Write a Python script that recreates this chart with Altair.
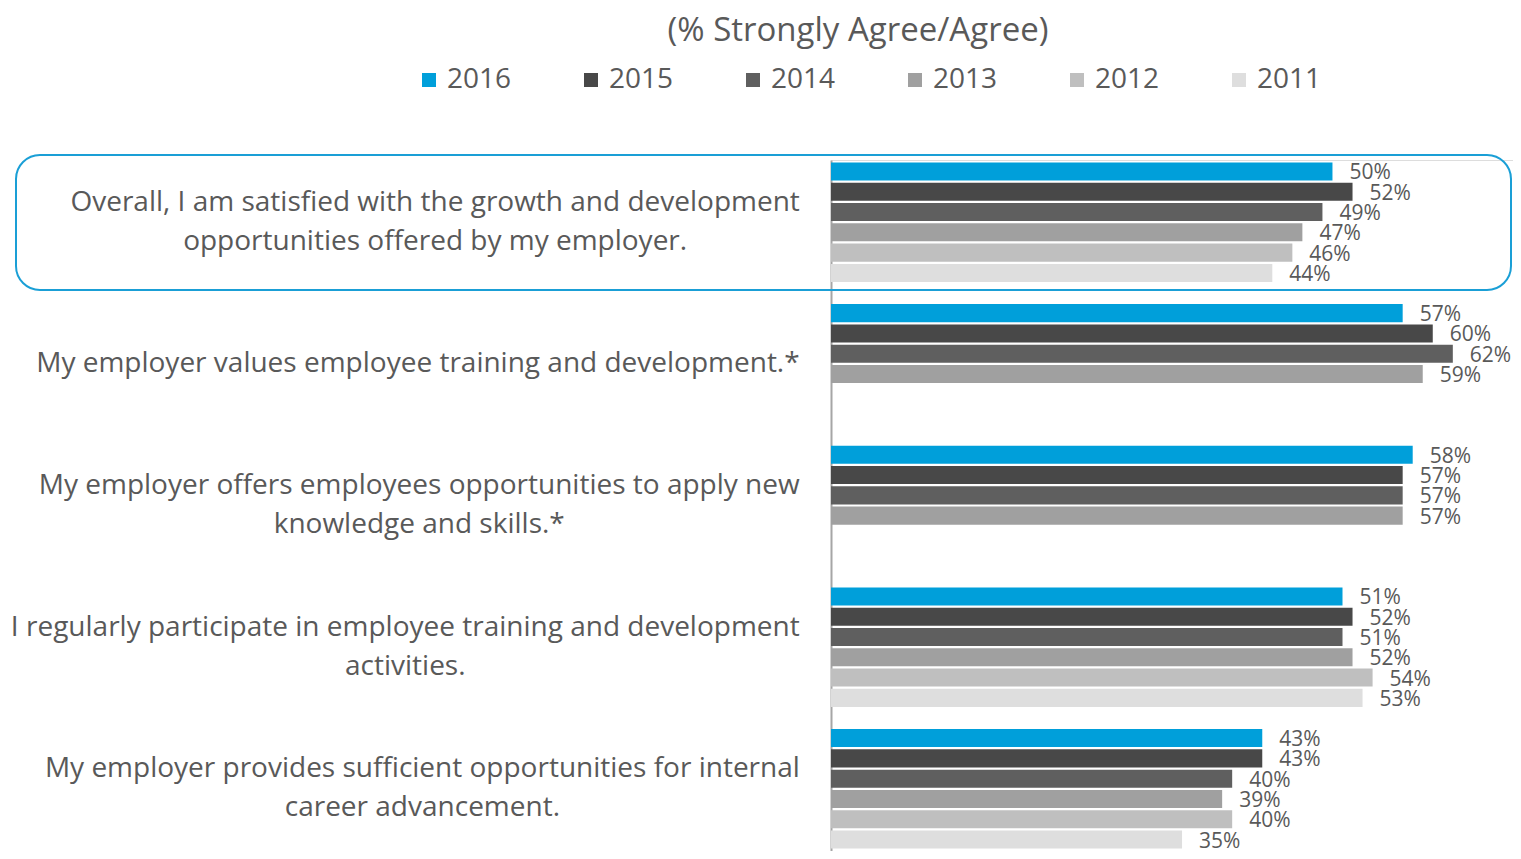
import altair as alt
import pandas as pd

# ---- data ----
questions = [
    "Overall, I am satisfied with the growth and development\nopportunities offered by my employer.",
    "My employer values employee training and development.*",
    "My employer offers employees opportunities to apply new\nknowledge and skills.*",
    "I regularly participate in employee training and development\nactivities.",
    "My employer provides sufficient opportunities for internal\ncareer advancement.",
]
years = ["2016", "2015", "2014", "2013", "2012", "2011"]
colors = ["#009FDA", "#484848", "#5F5F5F", "#A0A0A0", "#BFBFBF", "#DEDEDE"]

q1_values = [50, 52, 49, 47, 46, 44]
q2_values = [57, 60, 62, 59, None, None]
q3_values = [58, 57, 57, 57, None, None]
q4_values = [51, 52, 51, 52, 54, 53]
q5_values = [43, 43, 40, 39, 40, 35]

series = [q1_values, q2_values, q3_values, q4_values, q5_values]

rows = []
for q, vals in zip(questions, series):
    for y, v in zip(years, vals):
        if v is None:
            continue
        rows.append({"question": q, "year": y, "value": v, "label": f"{v}%"})
df = pd.DataFrame(rows)

FONT = "Open Sans"
TXT = "#595959"
W, H = 682, 691
QSIZE = 28

# Open Sans advance widths (units per 2048 em) to centre the wrapped label lines
_adv = {
    " ": 532, "a": 1139, "b": 1255, "c": 975, "d": 1255, "e": 1149, "f": 694,
    "g": 1122, "h": 1257, "i": 518, "j": 518, "k": 1075, "l": 518, "m": 1905,
    "n": 1257, "o": 1237, "p": 1255, "q": 1255, "r": 836, "s": 977, "t": 723,
    "u": 1257, "v": 1026, "w": 1593, "x": 1073, "y": 1028, "z": 977,
    "O": 1599, "I": 576, "M": 1823, ",": 500, ".": 545, "*": 1128,
}


def text_width(s, size):
    return sum(_adv.get(ch, 1150) for ch in s) / 2048 * size


GAP = 31
lab_rows = []
for q in questions:
    lines = q.split("\n")
    widest = max(text_width(s, QSIZE) for s in lines)
    lab_rows.append({"question": q, "nlines": len(lines), "xc": -GAP - widest / 2})
lab_df = pd.DataFrame(lab_rows)

y_enc = alt.Y(
    "question:N",
    sort=questions,
    scale=alt.Scale(paddingInner=0.142, paddingOuter=0.01),
    axis=alt.Axis(labels=False, ticks=False, title=None, grid=False,
                  domain=True, domainColor="#A6A6A6", domainWidth=2),
)
yoff_enc = alt.YOffset(
    "year:N", sort=years,
    scale=alt.Scale(domain=years, paddingInner=0.11, paddingOuter=0.05),
)
x_enc = alt.X("value:Q", scale=alt.Scale(domain=[0, 68], nice=False, zero=True), axis=None)

base = alt.Chart(df)

bars = base.mark_bar().encode(
    y=y_enc,
    yOffset=yoff_enc,
    x=x_enc,
    color=alt.Color(
        "year:N", sort=years,
        scale=alt.Scale(domain=years, range=colors),
        legend=alt.Legend(
            orient="none", legendX=-416, legendY=-94,
            direction="horizontal", columns=6,
            symbolType="square", symbolSize=196, symbolStrokeWidth=0,
            labelFontSize=28, labelFont=FONT, labelColor=TXT,
            columnPadding=65, labelOffset=4, title=None,
        ),
    ),
)

values = base.mark_text(
    align="left", baseline="middle", dx=17, dy=2,
    fontSize=21, font=FONT, color=TXT,
).encode(y=y_enc, yOffset=yoff_enc, x=x_enc, text="label:N")

qtext = dict(align="center", baseline="middle", lineBreak="\n", lineHeight=39,
             fontSize=QSIZE, font=FONT, color=TXT)
qlab = alt.Chart(lab_df)
qlabels_two = qlab.transform_filter("datum.nlines == 2").mark_text(dy=-19.5, **qtext).encode(
    y=alt.Y("question:N", sort=questions),
    x=alt.X("xc:Q", scale=None),
    text="question:N",
)
qlabels_one = qlab.transform_filter("datum.nlines == 1").mark_text(**qtext).encode(
    y=alt.Y("question:N", sort=questions),
    x=alt.X("xc:Q", scale=None),
    text="question:N",
)

box = alt.Chart(pd.DataFrame({"k": [0]})).mark_rect(
    fill="transparent", stroke="#1A9FD6", strokeWidth=2, cornerRadius=24,
).encode(
    x=alt.value(-815), x2=alt.value(680),
    y=alt.value(-5), y2=alt.value(130),
)

chart = alt.layer(box, bars, values, qlabels_two, qlabels_one).properties(
    width=W, height=H,
    title=alt.TitleParams(
        "(% Strongly Agree/Agree)", fontSize=33, font=FONT, color=TXT,
        fontWeight="normal", anchor="middle", dx=-314, dy=-14,
    ),
    autosize=alt.AutoSizeParams(type="none"),
    padding={"left": 823, "top": 152, "right": 0, "bottom": 0},
).configure_view(stroke=None).configure(font=FONT)

chart.save("out.html", embed_options={"renderer": "svg", "actions": False})
